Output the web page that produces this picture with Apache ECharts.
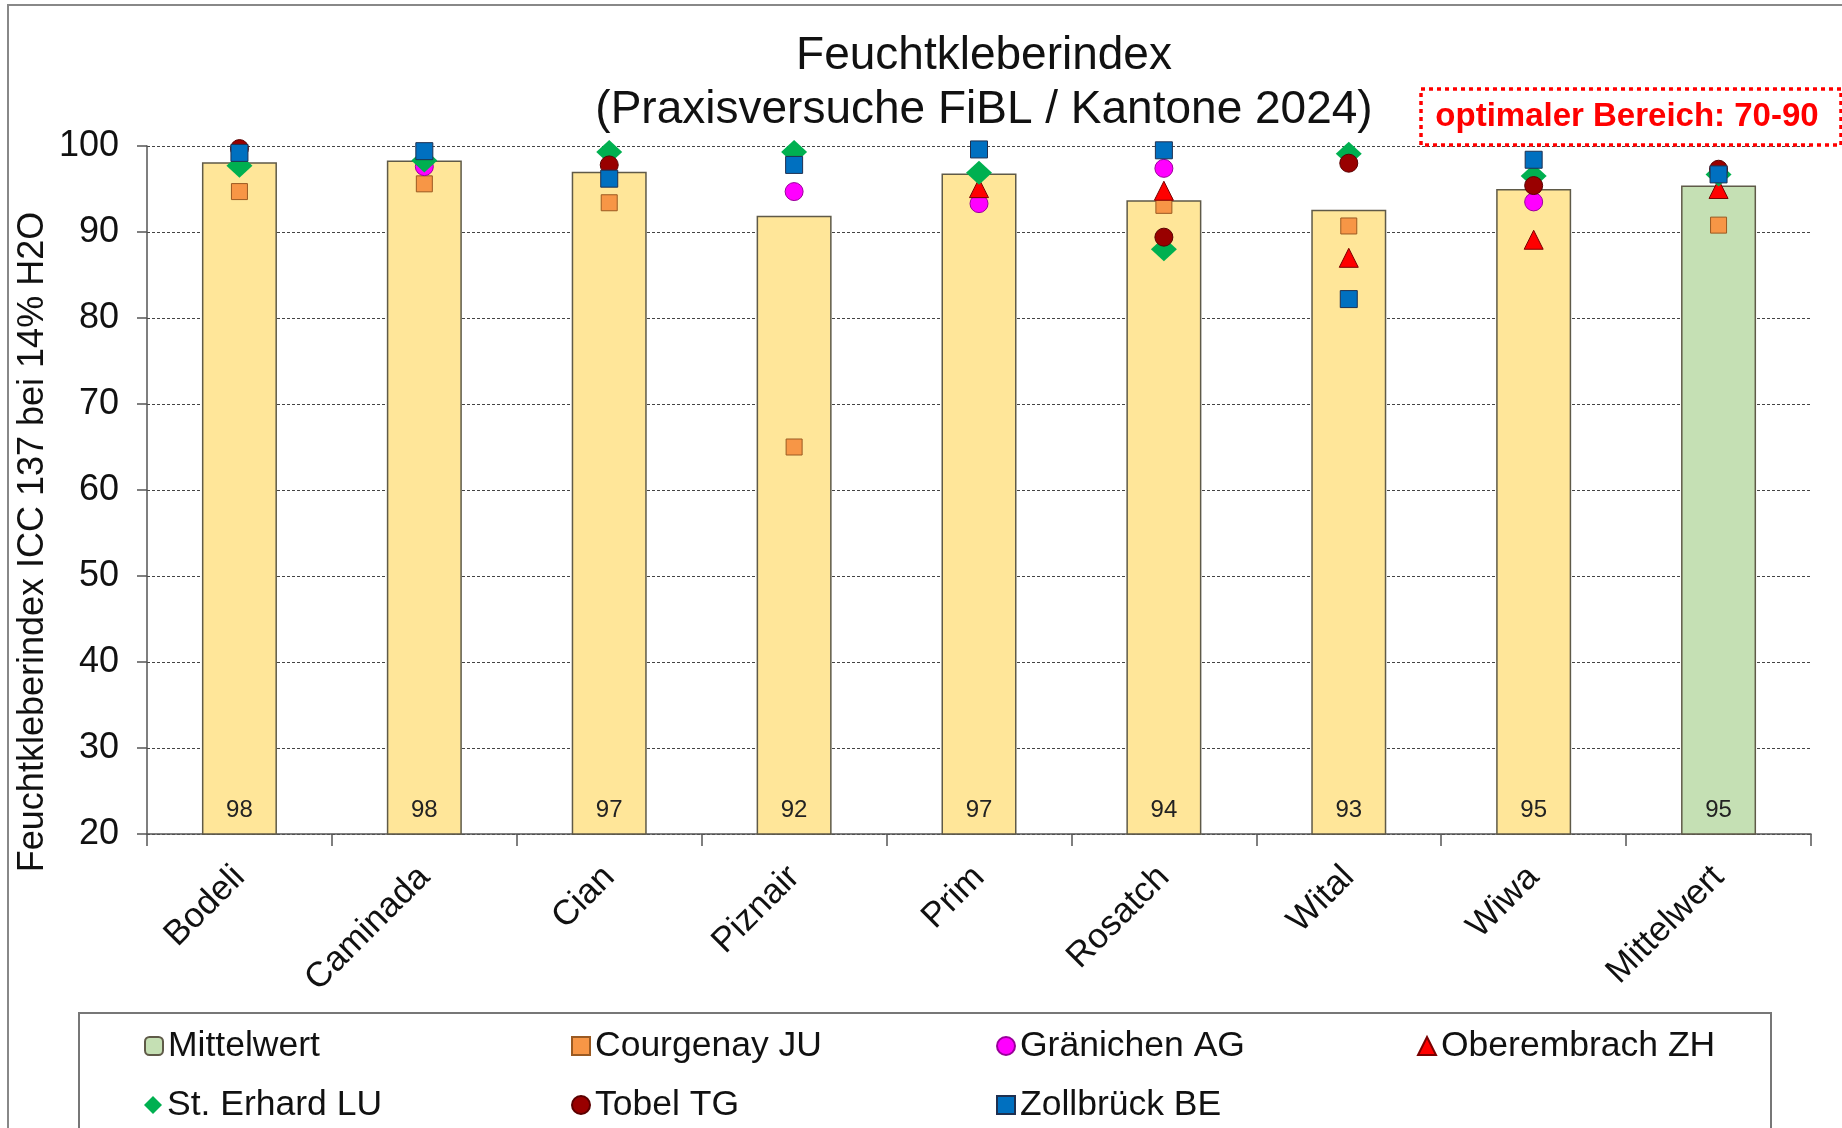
<!DOCTYPE html>
<html>
<head>
<meta charset="utf-8">
<title>Feuchtkleberindex</title>
<script src="https://cdn.jsdelivr.net/npm/echarts@6/dist/echarts.min.js"></script>
<style>
  html, body { margin: 0; padding: 0; background: #fff; }
  #chart { width: 1842px; height: 1128px; }
</style>
</head>
<body>
<div id="chart"></div>
<script>
  // Sorten (Kategorien)
  const categories = ['Bodeli', 'Caminada', 'Cian', 'Piznair', 'Prim', 'Rosatch', 'Wital', 'Wiwa', 'Mittelwert']
  // Mittelwert je Sorte (Balken)
  const meanValues = [98.1, 98.3, 97.0, 91.9, 96.8, 93.7, 92.6, 95.0, 95.4]
  // Standorte (Punkte), null = nicht sichtbar
  const courgenay = [94.7, 95.6, 93.4, 65.0, null, 93.1, 90.7, null, 90.8]
  const graenichen = [null, 97.6, null, 94.7, 93.3, 97.4, null, 93.5, null]
  const oberembrach = [null, null, null, null, 95.1, 94.8, 87.0, 89.1, 95.0]
  const stErhard = [97.7, 98.3, 99.3, 99.3, 96.9, 88.0, 99.1, 96.5, 96.7]
  const tobel = [99.7, null, 97.8, null, null, 89.4, 98.0, 95.4, 97.3]
  const zollbrueck = [99.2, 99.4, 96.2, 97.8, 99.6, 99.5, 82.2, 98.4, 96.7]
  const yTicks = [20, 30, 40, 50, 60, 70, 80, 90, 100]

  const FONT = 'Liberation Sans, Arial, sans-serif'
  const chart = echarts.init(document.getElementById('chart'))

  const pts = arr => arr.map(v => (v === null ? '-' : v))

  // Punkt-Serie erzeugen
  const scatter = (name, data, symbol, size, color, border) => ({
    name,
    type: 'scatter',
    data: pts(data),
    symbol,
    symbolSize: size,
    itemStyle: { color, borderColor: border, borderWidth: border ? 1 : 0, opacity: 1 },
    emphasis: { disabled: true }
  })

  const legendItem = (name, left, top) => ({
    data: [name],
    left,
    top,
    itemWidth: 18,
    itemHeight: 18,
    itemGap: 0,
    textStyle: { fontFamily: FONT, fontSize: 35.5, color: '#111' },
    selectedMode: false
  })

  const option = {
    backgroundColor: '#fff',
    animation: false,
    title: {
      text: 'Feuchtkleberindex\n(Praxisversuche FiBL / Kantone 2024)',
      left: 979,
      top: 24,
      textAlign: 'center',
      textStyle: { fontFamily: FONT, fontSize: 46, fontWeight: 'normal', color: '#111', lineHeight: 54 }
    },
    legend: [
      legendItem('Mittelwert', 139, 1023),
      legendItem('Courgenay JU', 566, 1023),
      legendItem('Gränichen AG', 991, 1023),
      legendItem('Oberembrach ZH', 1412, 1023),
      legendItem('St. Erhard LU', 139, 1082),
      legendItem('Tobel TG', 566, 1082),
      legendItem('Zollbrück BE', 991, 1082)
    ],
    grid: { left: 147, right: 31, top: 146, bottom: 294 },
    xAxis: {
      type: 'category',
      data: categories,
      axisLine: { lineStyle: { color: '#555', width: 1.5 } },
      axisTick: { show: true, length: 12, lineStyle: { color: '#555', width: 1.5 } },
      axisLabel: {
        rotate: 45,
        margin: 38,
        fontFamily: FONT,
        fontSize: 35,
        color: '#111'
      }
    },
    yAxis: {
      type: 'value',
      min: yTicks[0],
      max: yTicks[yTicks.length - 1],
      interval: 10,
      axisLine: { show: true, lineStyle: { color: '#555', width: 1.5 } },
      axisTick: { show: true, length: 10, lineStyle: { color: '#555', width: 1.5 } },
      axisLabel: { margin: 28, fontFamily: FONT, fontSize: 36, color: '#111' },
      splitLine: { show: true, lineStyle: { color: '#444', type: [3, 2], width: 1.2 } }
    },
    graphic: [
      // Rahmen der Grafik
      {
        type: 'rect',
        shape: { x: 8, y: 5, width: 1900, height: 1200 },
        style: { fill: null, stroke: '#888', lineWidth: 2 },
        silent: true
      },
      // Rahmen der Legende
      {
        type: 'rect',
        shape: { x: 79, y: 1013, width: 1692, height: 140 },
        style: { fill: null, stroke: '#777', lineWidth: 2 },
        silent: true
      },
      // Y-Achsentitel
      {
        type: 'text',
        x: 33,
        y: 542,
        rotation: Math.PI / 2,
        style: {
          text: 'Feuchtkleberindex ICC 137 bei 14% H2O',
          font: '36px ' + FONT,
          fill: '#111',
          align: 'center',
          verticalAlign: 'middle'
        }
      },
      // optimaler Bereich
      {
        type: 'rect',
        shape: { x: 1421, y: 89, width: 420, height: 56 },
        style: { fill: '#fff', stroke: '#ff0000', lineWidth: 3.5, lineDash: [4, 4] },
        z: 10
      },
      {
        type: 'text',
        x: 1627,
        y: 117,
        style: {
          text: 'optimaler Bereich: 70-90',
          font: 'bold 33px ' + FONT,
          fill: '#ff0000',
          align: 'center',
          verticalAlign: 'middle'
        },
        z: 11
      }
    ],
    series: [
      {
        name: 'Mittelwert',
        type: 'bar',
        barWidth: 75,
        data: meanValues.map((v, i) => ({
          value: v,
          itemStyle: { color: i === categories.length - 1 ? '#C5E0B4' : '#FFE699' }
        })),
        itemStyle: { color: '#C5E0B4', borderColor: '#5f5a48', borderWidth: 1.5 },
        label: {
          show: true,
          position: 'insideBottom',
          distance: 12,
          fontFamily: FONT,
          fontSize: 24,
          color: '#222',
          formatter: p => Math.round(p.value)
        },
        emphasis: { disabled: true }
      },
      scatter('Courgenay JU', courgenay, 'rect', 16, '#F79646', '#9a5a22'),
      scatter('Gränichen AG', graenichen, 'circle', 18, '#FF00FF', '#9a009a'),
      scatter('Oberembrach ZH', oberembrach, 'triangle', 19, '#FF0000', '#7a0000'),
      scatter('St. Erhard LU', stErhard, 'diamond', [26, 24], '#00B050', null),
      scatter('Tobel TG', tobel, 'circle', 18, '#990000', '#5a0000'),
      scatter('Zollbrück BE', zollbrueck, 'rect', 17, '#0070C0', '#1f3050')
    ]
  }

  chart.setOption(option)

  window.addEventListener('resize', () => chart.resize())
</script>
</body>
</html>
